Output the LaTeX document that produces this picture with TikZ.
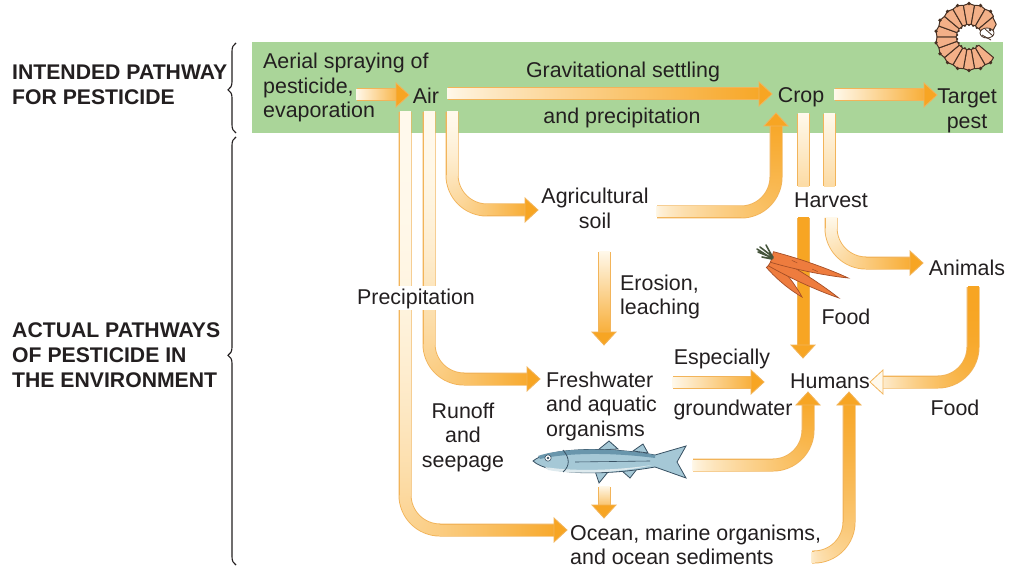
\documentclass[tikz,border=0pt]{standalone}
\usepackage{fontspec}
\setmainfont{Liberation Sans}
\usetikzlibrary{decorations.markings,decorations.pathreplacing}

\definecolor{flowOrange}{RGB}{247,165,35}
\definecolor{flowCream}{RGB}{255,249,236}
\definecolor{flowEdge}{RGB}{242,180,90}
\definecolor{bandGreen}{RGB}{170,213,153}
\definecolor{ink}{RGB}{35,31,32}
\definecolor{grubSkin}{RGB}{243,176,136}
\definecolor{grubLine}{RGB}{70,48,35}
\definecolor{carrotFill}{RGB}{238,124,62}
\definecolor{carrotLine}{RGB}{165,78,38}
\definecolor{leafGreen}{RGB}{70,85,60}
\definecolor{fishBody}{RGB}{165,200,214}
\definecolor{fishBack}{RGB}{105,150,172}
\definecolor{fishBelly}{RGB}{222,234,238}
\definecolor{fishLine}{RGB}{55,80,98}

% multi-line label whose baseline is the first line
\newcommand{\txtstack}[2][l]{\begin{tabular}[t]{@{}#1@{}}#2\end{tabular}}

\tikzset{
  lbl/.style={font=\fontsize{21.4}{24.5}\selectfont, text=ink, inner sep=0pt},
  side/.style={font=\fontsize{21.2}{25}\selectfont\bfseries, text=ink, inner sep=0pt, anchor=base west},
  bracket/.style={draw=ink, line width=1.1pt, decorate,
    decoration={brace, amplitude=8pt, aspect=#1}},
  % thick band fading from #1 to #2 (percent orange), head filled with #3, fade exponent #4
  flow/.style args={#1/#2/#3/#4}{
    draw=flowEdge, line width=13pt, shorten >=12pt,
    postaction={decorate, decoration={markings,
      mark=between positions 0 and -12pt step 1pt with {%
        \pgfmathsetmacro\flowt{(\pgfkeysvalueof{/pgf/decoration/mark info/distance from start}+0.5pt)/\pgfdecoratedpathlength}%
        \pgfmathsetmacro\flowp{max(0,min(100,#1+(#2-#1)*pow(\flowt,#4)))}%
        \fill[flowOrange!\flowp!flowCream, sharp corners, shorten >=0pt] (-0.9pt,-5.5pt) rectangle (0.9pt,5.5pt);},
      mark=at position 1 with {%
        \filldraw[draw=flowEdge, fill=#3, line width=0.8pt, sharp corners, shorten >=0pt]
          (-13pt,-12pt) -- (0pt,0pt) -- (-13pt,12pt) -- cycle;}
    }}
  },
  % headless band piece
  stub/.style args={#1/#2}{
    draw=flowEdge, line width=13pt,
    postaction={decorate, decoration={markings,
      mark=between positions 0 and 1 step 1pt with {%
        \pgfmathsetmacro\flowt{\pgfkeysvalueof{/pgf/decoration/mark info/distance from start}/\pgfdecoratedpathlength}%
        \pgfmathsetmacro\flowp{max(0,min(100,#1+(#2-#1)*\flowt))}%
        \fill[flowOrange!\flowp!flowCream, sharp corners] (-0.9pt,-5.5pt) rectangle (0.9pt,5.5pt);}
    }}
  },
  grub/.style={fill=grubSkin, draw=grubLine, line width=1pt, line join=round},
  carrot/.style={fill=carrotFill, draw=carrotLine, line width=0.7pt},
}

\begin{document}
\begin{tikzpicture}[x=1pt, y=-1pt]
\useasboundingbox (0,0) rectangle (1016,569);
\fill[white] (0,0) rectangle (1016,569);

% band of the intended pathway
\fill[bandGreen] (252,42) rectangle (1003,133);

% end points of the flows
\coordinate (evS) at (357,95);   \coordinate (evE) at (409,95);
\coordinate (acS) at (448,94);   \coordinate (acE) at (772,94);
\coordinate (cpS) at (835,95);   \coordinate (cpE) at (937,95);
\coordinate (asS) at (452,112);  \coordinate (asE) at (538,210);
\coordinate (afS) at (429,112);  \coordinate (afE) at (540,379);
\coordinate (aoS) at (405,112);  \coordinate (aoE) at (567,530);
\coordinate (scS) at (657,212);  \coordinate (scE) at (776,113);
\coordinate (sfS) at (604,252);  \coordinate (sfE) at (604,345);
\coordinate (ch1S) at (803,114); \coordinate (ch1E) at (803,186);
\coordinate (ch2S) at (829,114); \coordinate (ch2E) at (829,186);
\coordinate (hhS) at (803,218);  \coordinate (hhE) at (803,358);
\coordinate (haS) at (831,218);  \coordinate (haE) at (923,263);
\coordinate (anS) at (973,287);  \coordinate (anE) at (870,382);
\coordinate (fhS) at (673,382);  \coordinate (fhE) at (764,382);
\coordinate (fiS) at (693,465);  \coordinate (fiE) at (808,392);
\coordinate (foS) at (604,487);  \coordinate (foE) at (604,518);
\coordinate (ohS) at (812,557);  \coordinate (ohE) at (849,392);

% flows
\path[flow=0/100/flowOrange/1] (evS) -- (evE);
\path[flow=0/100/flowOrange/0.8] (acS) -- (acE);
\path[flow=0/100/flowOrange/1] (cpS) -- (cpE);
\path[flow=0/100/flowOrange/1.5, rounded corners=35pt] (asS) |- (asE);
\path[flow=0/100/flowOrange/2, rounded corners=35pt] (afS) |- (afE);
\path[flow=0/100/flowOrange/2.5, rounded corners=35pt] (aoS) |- (aoE);
\path[flow=0/100/flowOrange/0.6, rounded corners=35pt] (scS) -| (scE);
\path[flow=0/100/flowOrange/1] (sfS) -- (sfE);
\path[stub=0/35] (ch1S) -- (ch1E);
\path[stub=0/35] (ch2S) -- (ch2E);
\path[flow=100/100/flowOrange/1] (hhS) -- (hhE);
\path[flow=0/100/flowOrange/1, rounded corners=35pt] (haS) |- (haE);
\path[flow=100/0/flowCream/2.5, rounded corners=35pt] (anS) |- (anE);
\path[flow=0/100/flowOrange/1] (fhS) -- (fhE);
\path[flow=0/100/flowOrange/0.7, rounded corners=35pt] (fiS) -| (fiE);
\path[flow=0/100/flowOrange/1] (foS) -- (foE);
\path[flow=10/100/flowOrange/0.5, rounded corners=35pt] (ohS) -| (ohE);

% labels
\node[lbl, anchor=base west] (spray) at (263,69) {\txtstack{Aerial spraying of\\pesticide,\\evaporation}};
\node[lbl, anchor=base] (air) at (426,104) {Air};
\node[lbl, anchor=base] (grav) at (623,78) {Gravitational settling};
\node[lbl, anchor=base] (andprec) at (622,124) {and precipitation};
\node[lbl, anchor=base] (crop) at (801,103) {Crop};
\node[lbl, anchor=base] (pest) at (967,104) {\txtstack[c]{Target\\pest}};
\node[lbl, anchor=base] (soil) at (595,204) {\txtstack[c]{Agricultural\\soil}};
\node[lbl, anchor=base] (harvest) at (831,208) {Harvest};
\node[lbl, anchor=base] (animals) at (967,275) {Animals};
\node[lbl, anchor=base, fill=white, inner sep=2pt] (precip) at (416,304) {Precipitation};
\node[lbl, anchor=base west] (erosion) at (620,290) {\txtstack{Erosion,\\leaching}};
\node[lbl, anchor=base] (food1) at (846,324) {Food};
\node[lbl, anchor=base] (esp) at (722,364) {Especially};
\node[lbl, anchor=base] (humans) at (830,388) {Humans};
\node[lbl, anchor=base west] (fresh) at (546,387) {\txtstack{Freshwater\\and aquatic\\organisms}};
\node[lbl, anchor=base] (ground) at (733,415) {groundwater};
\node[lbl, anchor=base] (runoff) at (463,418) {\txtstack[c]{Runoff\\and\\seepage}};
\node[lbl, anchor=base] (food2) at (955,415) {Food};
\node[lbl, anchor=base west] (ocean) at (570,540) {\txtstack{Ocean, marine organisms,\\and ocean sediments}};

\node[side] (intended) at (12,80) {\txtstack{INTENDED PATHWAY\\FOR PESTICIDE}};
\node[side] (actual) at (12,337) {\txtstack{ACTUAL PATHWAYS\\OF PESTICIDE IN\\THE ENVIRONMENT}};

% braces
\coordinate (b1top) at (236,43);  \coordinate (b1bot) at (236,133);
\coordinate (b2top) at (236,137); \coordinate (b2bot) at (236,565);
\draw[bracket=0.48] (b1bot) -- (b1top);
\draw[bracket=0.49] (b2bot) -- (b2top);

% curled grub (target pest)
\begin{scope}[shift={(969,37)}]
  \foreach \a in {40,60,...,300} {
    \pgfmathsetmacro\b{\a+20}
    \filldraw[grub] (\a:13) -- (\a:32) -- ({\a+10}:33.5) -- (\b:32) -- (\b:13) -- ({\a+10}:12) -- cycle;
    \fill[grubLine] ({\a+10}:33.5) circle (1.8pt);
    \fill[grubLine] ({\a+10}:12) circle (1.2pt);
  }
  \filldraw[grub] (320:13) -- (320:31) -- (335:30) -- (350:23) -- (345:14) -- cycle;
  \filldraw[fill=white, draw=grubLine, line width=0.8pt] (18,-4) ellipse (7pt and 5pt);
  \fill[grubLine] (21,-7) circle (1.5pt);
  \draw[grubLine, line width=0.8pt] (13,-2) -- (22,3) (16,-8) -- (24,-1);
\end{scope}

% carrots
\begin{scope}[shift={(770,264)}, rotate=-45.9]
  \filldraw[carrot] (0,-5) .. controls (18,-6) and (36,-3) .. (46,0) .. controls (36,3) and (18,6) .. (0,5) -- cycle;
\end{scope}
\begin{scope}[shift={(771,261)}, rotate=-28.6]
  \filldraw[carrot] (0,-5.5) .. controls (30,-6) and (60,-3) .. (77,0) .. controls (60,3) and (30,6) .. (0,5.5) -- cycle;
\end{scope}
\begin{scope}[shift={(772,257)}, rotate=-15.4]
  \filldraw[carrot] (0,-5.5) .. controls (30,-6) and (62,-3) .. (79,0) .. controls (62,3) and (30,6) .. (0,5.5) -- cycle;
  \draw[carrotLine, line width=0.5pt] (20,-2) -- (26,-1) (42,1) -- (48,2);
\end{scope}
\draw[leafGreen, line width=1.6pt, line cap=round]
  (773,257) -- (760,247) (773,258) -- (758,252) (772,259) -- (762,257)
  (772,256) -- (766,245) (771,258) -- (757,249);

% fish
\filldraw[fill=fishBody, draw=fishLine, line width=0.8pt]
  (598,450) -- (609,441) -- (618,449) -- cycle
  (633,451) -- (643,444) -- (648,453) -- cycle
  (595,471) -- (599,483) -- (608,472) -- cycle
  (622,471) -- (630,478) -- (637,469) -- cycle;
\filldraw[fill=fishBody, draw=fishLine, line width=0.8pt]
  (533,461) .. controls (548,448) and (605,446) .. (655,455)
  -- (686,446) -- (677,462) -- (686,478) -- (655,467)
  .. controls (605,476) and (548,475) .. (533,461) -- cycle;
\fill[fishBack] (538,456) .. controls (560,448) and (610,447) .. (655,455) -- (655,458)
  .. controls (610,452) and (565,453) .. (540,459) -- cycle;
\fill[fishBelly] (545,467) .. controls (575,472) and (620,470) .. (652,465)
  .. controls (620,473) and (575,475) .. (548,470) -- cycle;
\draw[fishLine, line width=0.8pt] (563,450) .. controls (570,458) and (570,466) .. (563,472);
\draw[fishLine, line width=0.6pt] (575,462) -- (650,461);
\filldraw[fill=white, draw=fishLine, line width=0.6pt] (548,458) circle (3.2pt);
\fill[fishLine] (548,458) circle (1.4pt);
\end{tikzpicture}
\end{document}
